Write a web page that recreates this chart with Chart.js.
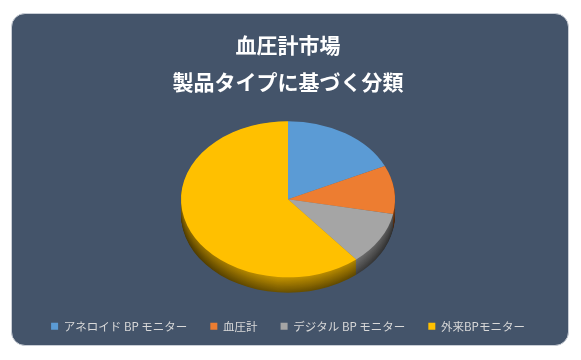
<!DOCTYPE html>
<html>
<head>
<meta charset="utf-8">
<script src="https://cdn.jsdelivr.net/npm/chart.js@4/dist/chart.umd.min.js"></script>
<style>
  html, body { margin: 0; padding: 0; background: #ffffff; }
  #card {
    position: absolute; left: 11px; top: 13px; width: 558px; height: 333px;
    box-sizing: border-box; border: 1px solid #c9ced6; border-radius: 14px;
    background: #44546A; overflow: hidden;
  }
  #c { position: absolute; left: 0; top: 0; }
</style>
</head>
<body>
<div id="card"><canvas id="c" width="556" height="331"></canvas></div>
<script>
const titleLines = ['血圧計市場', '製品タイプに基づく分類'];
const categories = ['アネロイド BP モニター', '血圧計', 'デジタル BP モニター', '外来BPモニター'];
const shares = [18, 10, 11, 61];
const sliceColors = ['#5B9BD5', '#ED7D31', '#A5A5A5', '#FFC000'];

const TILT = 0.73;   // vertical squash of the pie (3D look)
const DEPTH = 15;    // thickness in screen pixels

function shade(hex, f) {
  const n = parseInt(hex.slice(1), 16);
  const r = Math.round(((n >> 16) & 255) * f), g = Math.round(((n >> 8) & 255) * f), b = Math.round((n & 255) * f);
  return `rgb(${r},${g},${b})`;
}

const pie3d = {
  id: 'pie3d',
  beforeDatasetsDraw(chart) {
    const ctx = chart.ctx;
    const meta = chart.getDatasetMeta(0);
    const a0 = meta.data[0];
    const cx = a0.x, cy = a0.y;
    ctx.save();
    ctx.translate(cx, cy); ctx.scale(1, TILT); ctx.translate(-cx, -cy);
    const depth = DEPTH / TILT;
    const steps = Math.ceil(depth);
    for (let d = steps; d >= 1; d--) {
      const v = 0.78 - 0.36 * (d / steps);
      meta.data.forEach((arc, i) => {
        const r = arc.outerRadius;
        const g = ctx.createLinearGradient(cx - r, 0, cx + r, 0);
        const base = sliceColors[i];
        g.addColorStop(0, shade(base, v * 0.7));
        g.addColorStop(0.45, shade(base, v));
        g.addColorStop(0.8, shade(base, v * 0.9));
        g.addColorStop(1, shade(base, v * 0.65));
        ctx.beginPath();
        ctx.moveTo(cx, cy + d);
        ctx.arc(cx, cy + d, r, arc.startAngle, arc.endAngle);
        ctx.closePath();
        ctx.fillStyle = g;
        ctx.fill();
      });
    }
  },
  afterDatasetsDraw(chart) {
    chart.ctx.restore();
  }
};

new Chart(document.getElementById('c'), {
  type: 'pie',
  data: {
    labels: categories,
    datasets: [{
      data: shares,
      backgroundColor: sliceColors,
      borderWidth: 0,
      radius: 107,
      clip: false
    }]
  },
  options: {
    responsive: false,
    animation: false,
    devicePixelRatio: 1,
    layout: { padding: { top: 0, bottom: 3, left: 0, right: 4 } },
    plugins: {
      tooltip: { enabled: false },
      title: {
        display: true,
        text: titleLines,
        color: '#ffffff',
        font: { family: '"Noto Sans CJK JP", sans-serif', size: 21, weight: 'bold', lineHeight: 1.75 },
        padding: { top: 13, bottom: 0.5 }
      },
      legend: {
        position: 'bottom',
        labels: {
          color: '#d9d9d9',
          boxWidth: 7,
          boxHeight: 7,
          padding: 23,
          font: { family: '"Noto Sans CJK JP", sans-serif', size: 11.5 }
        }
      }
    }
  },
  plugins: [pie3d]
});
</script>
</body>
</html>
